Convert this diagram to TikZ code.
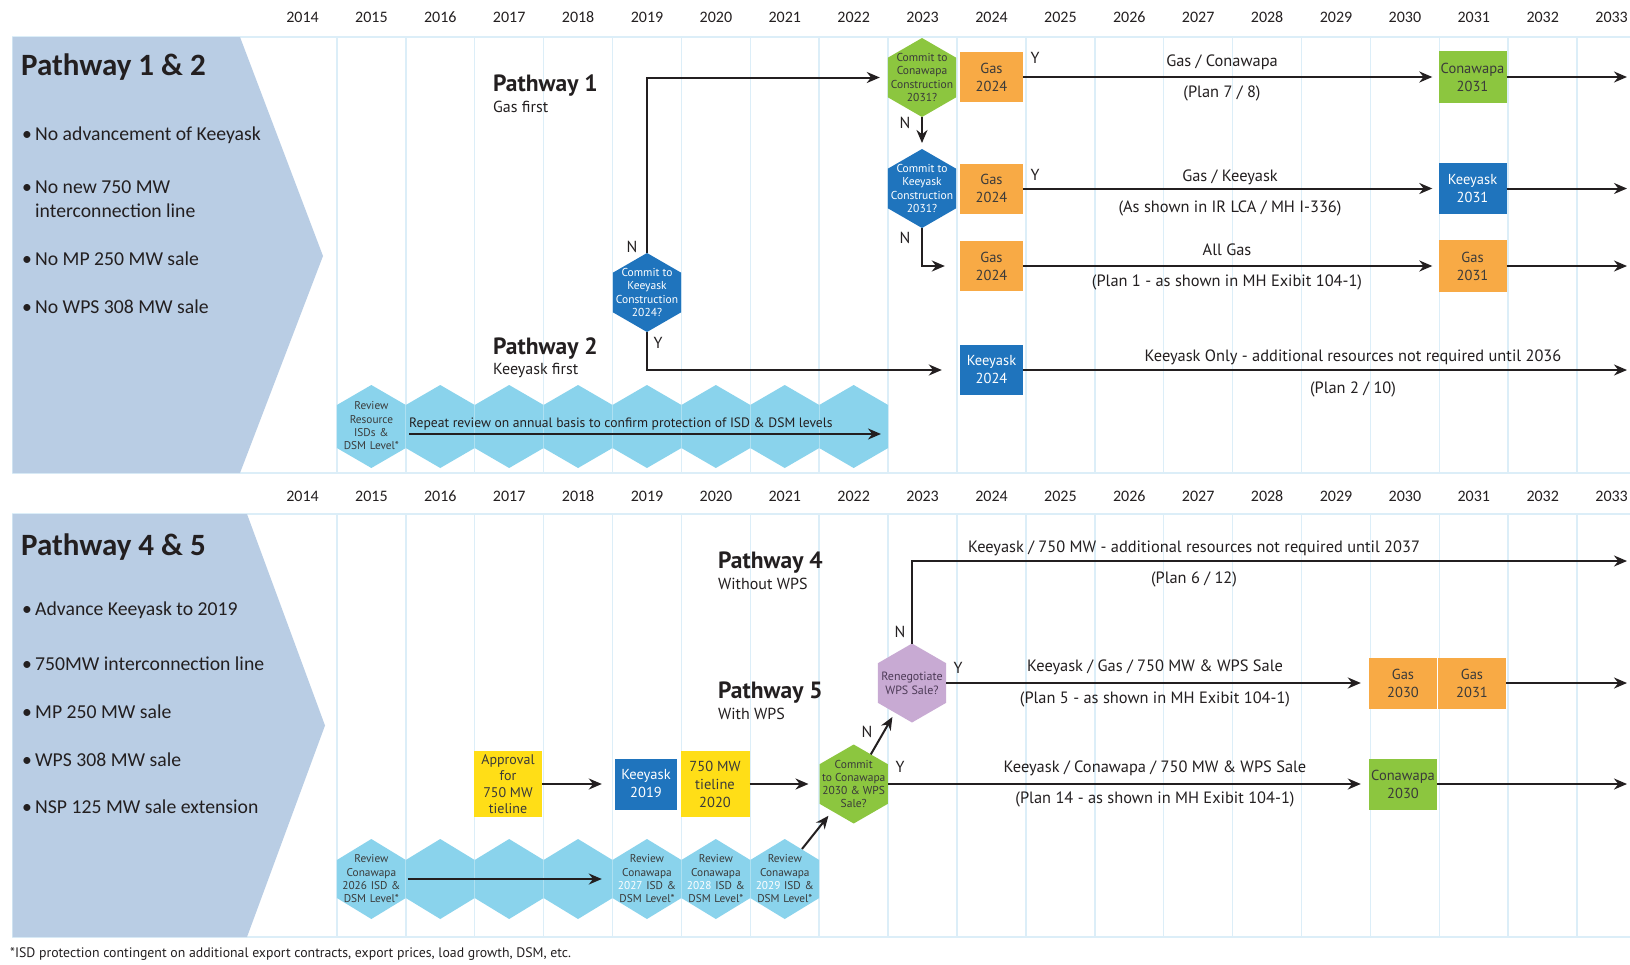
\documentclass[tikz,border=0pt]{standalone}
\usepackage{fontspec}
\setmainfont{PT Sans}
\newfontfamily\calfont{Carlito}
\usetikzlibrary{arrows.meta,shapes.geometric,calc}
\definecolor{gridc}{HTML}{DCEEF8}
\definecolor{chev}{HTML}{B9CDE4}
\definecolor{gasc}{HTML}{F8AA45}
\definecolor{bluec}{HTML}{1F74BD}
\definecolor{greenc}{HTML}{8CC63F}
\definecolor{yelc}{HTML}{FFDE17}
\definecolor{cyanc}{HTML}{8AD3EC}
\definecolor{purc}{HTML}{C8AAD3}
\definecolor{purt}{HTML}{4D3B57}
\definecolor{ink}{HTML}{231F20}
\definecolor{dtext}{HTML}{3A3A3A}
\tikzset{
  arr/.style={draw=ink, line width=2pt, -{Stealth[length=13pt,width=11pt]}},
  yr/.style={font=\calfont\fontsize{16}{18}\selectfont, text=ink, inner sep=0pt},
  chh/.style={font=\calfont\bfseries\fontsize{31}{36}\selectfont, text=ink, inner sep=0pt},
  bul/.style={font=\calfont\fontsize{19.7}{23.5}\selectfont, text=ink, inner sep=0pt, align=left},
  box/.style={minimum width=63pt, minimum height=50pt, inner sep=0pt, align=center,
              font=\fontsize{14.5}{18}\selectfont, text=dtext},
  hexn/.style={regular polygon, regular polygon sides=6, shape border rotate=30,
               minimum size=79pt, inner sep=0pt, outer sep=0pt},
  hext/.style={align=center, font=\fontsize{11.5}{13.3}\selectfont, inner sep=0pt, text=dtext},
  bandt/.style={align=center, text width=66pt, font=\fontsize{11.3}{13.3}\selectfont, inner sep=0pt, text=dtext},
  lab/.style={font=\fontsize{16.4}{19}\selectfont, text=ink, inner sep=0pt},
  yn/.style={font=\fontsize{16}{18}\selectfont, text=ink, inner sep=0pt},
  pth/.style={font=\bfseries\fontsize{23.5}{27}\selectfont, text=ink, inner sep=0pt, anchor=west},
  psub/.style={font=\fontsize{16}{18}\selectfont, text=ink, inner sep=0pt, anchor=west},
  grid line/.style={draw=gridc, line width=1.5pt}
}
\begin{document}
\begin{tikzpicture}[x=1pt,y=-1pt]
\useasboundingbox (0,0) rectangle (1630,964);
\fill[white] (0,0) rectangle (1630,964);

% year headers
\foreach \yr [count=\i from 0] in {2014,...,2033} {
  \node[yr] (ya\yr) at ({302.5+\i*68.9},17) {\yr};
  \node[yr] (yb\yr) at ({302.5+\i*68.9},496) {\yr};
}

% panels and grid
\draw[grid line] (12.5,37) rectangle (1660,473);
\draw[grid line] (12.5,514) rectangle (1660,937);
\foreach \k in {0,...,18} {
  \draw[grid line] ({336.9+\k*68.9},37) -- ++(0,436);
  \draw[grid line] ({336.9+\k*68.9},514) -- ++(0,423);
}

% chevrons
\fill[chev] (12.5,37) -- (240,37) -- (323,256) -- (240,473) -- (12.5,473) -- cycle;
\fill[chev] (12.5,514) -- (247,514) -- (325,725.5) -- (247,937) -- (12.5,937) -- cycle;

\node[chh, anchor=base west] (h12) at (21,75) {Pathway 1 \& 2};
\node[bul, anchor=base west] (b11) at (22,140) {\makebox[13pt][l]{•}No advancement of Keeyask};
\node[bul, anchor=base west] (b12) at (22,193) {\makebox[13pt][l]{•}No new 750 MW};
\node[bul, anchor=base west] (b12b) at (35,217) {interconnection line};
\node[bul, anchor=base west] (b13) at (22,265) {\makebox[13pt][l]{•}No MP 250 MW sale};
\node[bul, anchor=base west] (b14) at (22,313) {\makebox[13pt][l]{•}No WPS 308 MW sale};

\node[chh, anchor=base west] (h45) at (21,555) {Pathway 4 \& 5};
\node[bul, anchor=base west] (b21) at (22,615) {\makebox[13pt][l]{•}Advance Keeyask to 2019};
\node[bul, anchor=base west] (b22) at (22,670) {\makebox[13pt][l]{•}750MW interconnection line};
\node[bul, anchor=base west] (b23) at (22,718) {\makebox[13pt][l]{•}MP 250 MW sale};
\node[bul, anchor=base west] (b24) at (22,766) {\makebox[13pt][l]{•}WPS 308 MW sale};
\node[bul, anchor=base west] (b25) at (22,813) {\makebox[13pt][l]{•}NSP 125 MW sale extension};

% review bands
\fill[cyanc] (336.9,405) \foreach \i in {1,...,8} { -- ++(34.45,-20) -- ++(34.45,20) }
   -- ++(0,43) \foreach \i in {1,...,8} { -- ++(-34.45,20) -- ++(-34.45,-20) } -- cycle;
\fill[cyanc] (336.9,860) \foreach \i in {1,...,7} { -- ++(34.45,-21) -- ++(34.45,21) }
   -- ++(0,38) \foreach \i in {1,...,7} { -- ++(-34.45,21) -- ++(-34.45,-21) } -- cycle;
\foreach \k in {1,...,7} {
  \draw[white, opacity=0.3, line width=1pt] ({336.9+\k*68.9},405) -- ++(0,43);
}
\foreach \k in {1,...,6} {
  \draw[white, opacity=0.3, line width=1pt] ({336.9+\k*68.9},860) -- ++(0,38);
}

\node[bandt] (rv) at (371.4,426) {Review\\Resource\\ISDs \&\\DSM Level*};
\node[lab, anchor=base west, font=\fontsize{13.6}{16}\selectfont] (rep) at (409,427)
  {Repeat review on annual basis to confirm protection of ISD \& DSM levels};
\coordinate (bs) at (409,434);
\coordinate (be) at (881,434);
\draw[arr] (bs) -- (be);

\node[bandt] (rc26) at (371.4,879) {Review\\Conawapa\\2026 ISD \&\\DSM Level*};
\node[bandt] (rc27) at (647,879) {Review\\Conawapa\\\textcolor{white}{2027} ISD \&\\DSM Level*};
\node[bandt] (rc28) at (715.9,879) {Review\\Conawapa\\\textcolor{white}{2028} ISD \&\\DSM Level*};
\node[bandt] (rc29) at (784.8,879) {Review\\Conawapa\\\textcolor{white}{2029} ISD \&\\DSM Level*};

% pathway headings
\node[pth] (pa1) at (493,86) {Pathway 1};
\node[psub] (pa1s) at (493,107) {Gas first};
\node[pth] (pa2) at (493,349) {Pathway 2};
\node[psub] (pa2s) at (493,370) {Keeyask first};
\node[pth] (pa4) at (718,563) {Pathway 4};
\node[psub] (pa4s) at (718,584) {Without WPS};
\node[pth] (pa5) at (718,693) {Pathway 5};
\node[psub] (pa5s) at (718,714) {With WPS};

% hexagons
\node[hexn, fill=greenc] (cw31) at (922,77.5) {};
\node[hext] (cw31t) at (cw31) {Commit to\\Conawapa\\Construction\\2031?};
\node[hexn, fill=bluec] (kq31) at (922,188.5) {};
\node[hext, text=white] (kq31t) at (kq31) {Commit to\\Keeyask\\Construction\\2031?};
\node[hexn, fill=bluec] (k24) at (647,292.5) {};
\node[hext, text=white] (k24t) at (k24) {Commit to\\Keeyask\\Construction\\2024?};
\node[hexn, fill=greenc] (cb) at (853.7,784) {};
\node[hext] (cbt) at (cb) {Commit\\to Conawapa\\2030 \& WPS\\Sale?};
\node[hexn, fill=purc] (pw) at (912,683) {};
\node[hext, text=purt, font=\fontsize{12}{14}\selectfont] (pwt) at (pw) {Renegotiate\\WPS Sale?};

% boxes top
\node[box, fill=gasc] (g24a) at (991.5,77) {Gas\\2024};
\node[box, fill=gasc] (g24b) at (991.5,188.5) {Gas\\2024};
\node[box, fill=gasc] (g24c) at (991.5,266) {Gas\\2024};
\node[box, fill=bluec, text=white] (k24b) at (991.5,370) {Keeyask\\2024};
\node[box, fill=greenc, minimum width=68pt, minimum height=52pt] (c31) at (1472.5,77) {Conawapa\\2031};
\node[box, fill=bluec, text=white, minimum width=68pt, minimum height=51pt] (k31) at (1472.5,188.5) {Keeyask\\2031};
\node[box, fill=gasc, minimum width=68pt, minimum height=52pt] (g31a) at (1472.5,266) {Gas\\2031};

% boxes bottom
\node[box, fill=yelc, minimum width=68pt, minimum height=66pt, font=\fontsize{14}{16.5}\selectfont] (ap) at (508,784) {Approval\\for\\750 MW\\tieline};
\node[box, fill=bluec, text=white, minimum width=62pt, minimum height=51pt] (k19) at (646,784) {Keeyask\\2019};
\node[box, fill=yelc, minimum width=69pt, minimum height=66pt] (t20) at (715,784) {750 MW\\tieline\\2020};
\node[box, fill=gasc, minimum width=68pt, minimum height=51pt] (g30) at (1403,683) {Gas\\2030};
\node[box, fill=gasc, minimum width=68pt, minimum height=51pt] (g31b) at (1472,683) {Gas\\2031};
\node[box, fill=greenc, minimum width=68pt, minimum height=51pt] (c30) at (1403,784) {Conawapa\\2030};

% free ends at the right edge
\coordinate (e1) at (1627,77);
\coordinate (e2) at (1627,188.5);
\coordinate (e3) at (1627,266);
\coordinate (e4) at (1627,370);
\coordinate (e5) at (1627,561);
\coordinate (e6) at (1627,683);
\coordinate (e7) at (1627,784);
\coordinate (c29out) at (802,849);

% connectors top
\draw[arr, shorten >=8pt] (k24.90) |- (cw31);
\draw[arr, shorten >=18pt] (k24.270) |- (k24b);
\draw[arr, shorten >=6pt] (cw31) -- (kq31);
\draw[arr, shorten >=15pt] (kq31.270) |- (g24c);
\draw[arr, shorten >=6pt] (g24a) -- (c31);
\draw[arr] (c31) -- (e1);
\draw[arr, shorten >=6pt] (g24b) -- (k31);
\draw[arr] (k31) -- (e2);
\draw[arr, shorten >=6pt] (g24c) -- (g31a);
\draw[arr] (g31a) -- (e3);
\draw[arr] (k24b) -- (e4);

% connectors bottom
\draw[arr, shorten <=3pt, shorten >=12pt] (rc26) -- (rc27);
\draw[arr, shorten >=6pt] (c29out) -- (cb);
\draw[arr, shorten >=13pt] (ap) -- (k19);
\draw[arr, shorten >=11pt] (t20) -- (cb);
\draw[arr, shorten >=8pt] (cb) -- (c30);
\draw[arr] (c30) -- (e7);
\draw[arr, shorten >=5pt] (cb) -- (pw);
\draw[arr, shorten >=8pt] (pw) -- (g30);
\draw[arr] (g31b) -- (e6);
\draw[arr] (pw.90) |- (e5);

% Y / N labels
\node[yn] (n1) at (632,247) {N};
\node[yn] (y1) at (658,343) {Y};
\node[yn] (n2) at (905,123) {N};
\node[yn] (n3) at (905,238) {N};
\node[yn] (y2) at (1035,58) {Y};
\node[yn] (y3) at (1035,175) {Y};
\node[yn] (n4) at (900,632) {N};
\node[yn] (y4) at (958,668) {Y};
\node[yn] (n5) at (867,732) {N};
\node[yn] (y5) at (900,767) {Y};

% row labels
\node[lab] (l1a) at (1222,62) {Gas / Conawapa};
\node[lab] (l1b) at (1222,93) {(Plan 7 / 8)};
\node[lab] (l2a) at (1230,177) {Gas / Keeyask};
\node[lab] (l2b) at (1230,208) {(As shown in IR LCA / MH I-336)};
\node[lab] (l3a) at (1227,250) {All Gas};
\node[lab] (l3b) at (1227,282) {(Plan 1 - as shown in MH Exibit 104-1)};
\node[lab] (l4a) at (1353,357) {Keeyask Only - additional resources not required until 2036};
\node[lab] (l4b) at (1353,389) {(Plan 2 / 10)};
\node[lab] (l5a) at (1194,548) {Keeyask / 750 MW - additional resources not required until 2037};
\node[lab] (l5b) at (1194,579) {(Plan 6 / 12)};
\node[lab] (l6a) at (1155,667) {Keeyask / Gas / 750 MW \& WPS Sale};
\node[lab] (l6b) at (1155,699) {(Plan 5 - as shown in MH Exibit 104-1)};
\node[lab] (l7a) at (1155,768) {Keeyask / Conawapa / 750 MW \& WPS Sale};
\node[lab] (l7b) at (1155,799) {(Plan 14 - as shown in MH Exibit 104-1)};

% footnote
\node[lab, anchor=west, font=\fontsize{13.8}{16}\selectfont] (fn) at (10,954)
  {*ISD protection contingent on additional export contracts, export prices, load growth, DSM, etc.};
\end{tikzpicture}
\end{document}
